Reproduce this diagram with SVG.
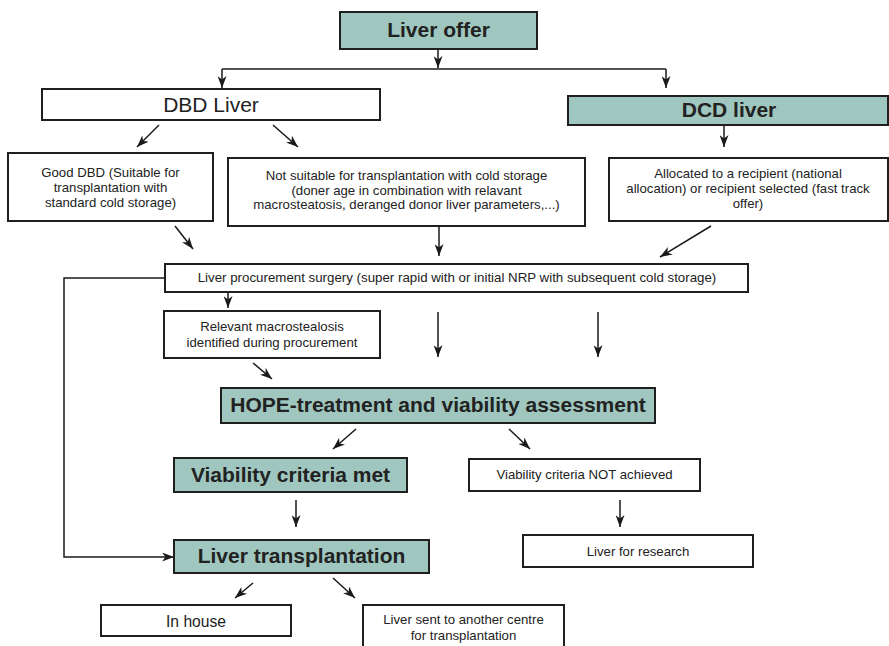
<svg xmlns="http://www.w3.org/2000/svg" width="889" height="646" viewBox="0 0 889 646">
<defs>
<marker id="ah" viewBox="0 0 12 9" refX="12" refY="4.5" markerWidth="12" markerHeight="9" markerUnits="userSpaceOnUse" orient="auto">
<path d="M0,0 L12,4.5 L0,9 L3.5,4.5 z" fill="#1a1a1a"/>
</marker>
<style>
.box{fill:#fff;stroke:#1f1f1f;stroke-width:2}
.tb{fill:#9fc7bf;stroke:#1f1f1f;stroke-width:2}
.t{font-family:"Liberation Sans",Arial,sans-serif;font-size:13.2px;fill:#222;text-anchor:middle}
.b{font-family:"Liberation Sans",Arial,sans-serif;font-size:21px;font-weight:bold;fill:#222;text-anchor:middle}
.r{font-family:"Liberation Sans",Arial,sans-serif;font-size:21px;fill:#222;text-anchor:middle}
.c{fill:none;stroke:#1a1a1a;stroke-width:1.5;marker-end:url(#ah)}
.l{fill:none;stroke:#1a1a1a;stroke-width:1.6}
</style>
</defs>
<rect width="889" height="646" fill="#fff"/>
<g id="connectors">
<path class="c" d="M438,49 V68"/>
<path class="l" d="M222,69 H666"/>
<path class="c" d="M222,69 V88"/>
<path class="c" d="M666,69 V88"/>
<path class="c" d="M724,125 V147"/>
<path class="c" d="M159,125 L137,147"/>
<path class="c" d="M273,125 L298,147"/>
<path class="c" d="M175,226 L193,249"/>
<path class="c" d="M439,226 V256"/>
<path class="c" d="M711,226 L660,257"/>
<path class="c" d="M165,278 H64 V557 H174"/>
<path class="c" d="M228,292 V308"/>
<path class="c" d="M438,312 V357"/>
<path class="c" d="M598,312 V357"/>
<path class="c" d="M253,363 L272,379"/>
<path class="c" d="M356,429 L333,449"/>
<path class="c" d="M509,429 L530,449"/>
<path class="c" d="M296,500 V527"/>
<path class="c" d="M620,500 V527"/>
<path class="c" d="M253,583 L235,598"/>
<path class="c" d="M333,578 L355,598"/>
</g>
<g id="liver-offer"><rect class="tb" x="340" y="12" width="197" height="37"/><text class="b" x="438.5" y="37">Liver offer</text></g>
<g id="dbd-liver"><rect class="box" x="42" y="89" width="338" height="31"/><text class="r" x="211" y="112">DBD Liver</text></g>
<g id="dcd-liver"><rect class="tb" x="568" y="96" width="320" height="29"/><text class="b" x="729" y="117">DCD liver</text></g>
<g id="good-dbd"><rect class="box" x="8" y="153" width="205" height="68"/><text class="t" x="110.5" y="177">Good DBD (Suitable for</text><text class="t" x="110.5" y="192">transplantation with</text><text class="t" x="110.5" y="207">standard cold storage)</text></g>
<g id="not-suitable"><rect class="box" x="228" y="158" width="357" height="68"/><text class="t" x="406.5" y="180">Not suitable for transplantation with cold storage</text><text class="t" x="406.5" y="194.5">(doner age in combination with relavant</text><text class="t" x="406.5" y="209">macrosteatosis, deranged donor liver parameters,...)</text></g>
<g id="allocated"><rect class="box" x="609" y="158" width="279" height="63"/><text class="t" x="748" y="178">Allocated to a recipient (national</text><text class="t" x="748" y="193">allocation) or recipient selected (fast track</text><text class="t" x="748" y="208">offer)</text></g>
<g id="procurement"><rect class="box" x="165" y="264" width="583" height="28"/><text class="t" x="457" y="282" style="font-size:13.3px">Liver procurement surgery (super rapid with or initial NRP with subsequent cold storage)</text></g>
<g id="macrosteatosis"><rect class="box" x="164" y="311" width="216" height="47"/><text class="t" x="272" y="331">Relevant macrostealosis</text><text class="t" x="272" y="347">identified during procurement</text></g>
<g id="hope"><rect class="tb" x="221" y="388" width="434" height="35"/><text class="b" x="438" y="412">HOPE-treatment and viability assessment</text></g>
<g id="criteria-met"><rect class="tb" x="174" y="458" width="233" height="34"/><text class="b" x="290.5" y="482">Viability criteria met</text></g>
<g id="criteria-not"><rect class="box" x="469" y="459" width="231" height="32"/><text class="t" x="584.5" y="479">Viability criteria NOT achieved</text></g>
<g id="research"><rect class="box" x="523" y="535" width="230" height="32"/><text class="t" x="638" y="556">Liver for research</text></g>
<g id="transplantation"><rect class="tb" x="174" y="540" width="255" height="33"/><text class="b" x="301.5" y="563">Liver transplantation</text></g>
<g id="in-house"><rect class="box" x="101" y="605" width="190" height="31"/><text class="r" x="196" y="627" style="font-size:17px" textLength="60" lengthAdjust="spacingAndGlyphs">In house</text></g>
<g id="another-centre"><rect class="box" x="363" y="605" width="201" height="45"/><text class="t" x="463.5" y="624">Liver sent to another centre</text><text class="t" x="463.5" y="640">for transplantation</text></g>
</svg>
